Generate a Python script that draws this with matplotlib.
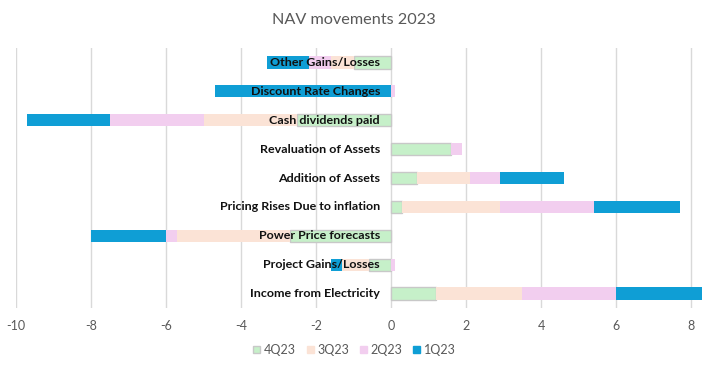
import matplotlib
matplotlib.use("Agg")
import matplotlib.pyplot as plt
import matplotlib.transforms as mtransforms
from matplotlib.patches import Patch
import numpy as np

categories = ["Other Gains/Losses", "Discount Rate Changes", "Cash dividends paid",
              "Revaluation of Assets", "Addition of Assets", "Pricing Rises Due to inflation",
              "Power Price forecasts", "Project Gains/Losses", "Income from Electricity"]
series_names = ["4Q23", "3Q23", "2Q23", "1Q23"]
q4 = [-1.0, 0.0, -2.5, 1.6, 0.7, 0.3, -2.7, -0.6, 1.2]
q3 = [-0.6, 0.0, -2.5, 0.0, 1.4, 2.6, -3.0, -0.7, 2.3]
q2 = [-0.6, 0.1, -2.5, 0.3, 0.8, 2.5, -0.3, 0.1, 2.5]
q1 = [-1.1, -4.7, -2.2, 0.0, 1.7, 2.3, -2.0, -0.3, 2.3]
xticks = [-10, -8, -6, -4, -2, 0, 2, 4, 6, 8]

colors = ["#C6F0C9", "#FBE3D6", "#F2CEEF", "#0F9ED5"]
edges = ["#C8C8C8", "none", "none", "none"]

fig = plt.figure(figsize=(7.07, 3.70), dpi=100)
ax = fig.add_axes([16/707, 1-308/370, (703-16)/707, 260/370])

y = np.arange(len(categories))
pos_base = np.zeros(len(categories))
neg_base = np.zeros(len(categories))
for vals, c, ec, name in zip([q4, q3, q2, q1], colors, edges, series_names):
    v = np.array(vals)
    left = np.where(v >= 0, pos_base, neg_base)
    ax.barh(y, v, left=left, height=0.42, color=c, edgecolor=ec,
            linewidth=1.0 if ec != "none" else 0, zorder=2, label=name)
    pos_base = pos_base + np.where(v >= 0, v, 0)
    neg_base = neg_base + np.where(v < 0, v, 0)

ax.set_xlim(-10, 8.32)
ax.set_ylim(len(categories) - 0.5, -0.5)
ax.set_xticks(xticks)
ax.set_xticklabels([str(t) for t in xticks], fontsize=9, color="#595959", family="Lato")
ax.set_yticks([])
ax.tick_params(axis="x", length=0, pad=9)
ax.grid(axis="x", color="#D9D9D9", linewidth=1.0, zorder=0)
ax.set_axisbelow(True)
for s in ax.spines.values():
    s.set_visible(False)

renderer = fig.canvas.get_renderer()
probe = fig.text(0, 0, "Income from Electricity", fontsize=10, fontweight="bold", family="Lato")
w = probe.get_window_extent(renderer).width
probe.remove()
label_size = 10 * 130.0 / w

trans = mtransforms.offset_copy(ax.transData, fig=fig, x=-11, y=0, units="dots")
for i, cat in enumerate(categories):
    ax.text(0, i, cat, transform=trans, ha="right", va="center", fontsize=label_size,
            fontweight="bold", color="#111111", family="Lato", zorder=5)

fig.text(0.5, 1-20/370, "NAV movements 2023", ha="center", va="center",
         fontsize=11.7, color="#595959", family="Lato")

handles = [Patch(facecolor=c, edgecolor=(ec if ec != "none" else c), linewidth=1.0)
           for c, ec in zip(colors, edges)]
fig.legend(handles, series_names, loc="center", bbox_to_anchor=(0.5014, 1-350/370),
           ncol=4, frameon=False, handlelength=0.55, handleheight=0.55,
           handletextpad=0.3, columnspacing=0.85, labelcolor="#595959",
           prop={"family": "Lato", "size": 9})

fig.savefig("out.png", dpi=100)
